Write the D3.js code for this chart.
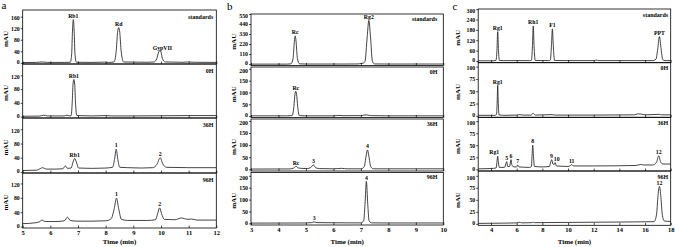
<!DOCTYPE html>
<html><head><meta charset="utf-8">
<script src="https://cdn.jsdelivr.net/npm/d3@7"></script>
<style>
body{margin:0;background:#fff}
svg{display:block}
text{font-family:"Liberation Serif","Times New Roman",serif;font-weight:bold;fill:#000}
</style>
</head><body>
<svg id="chart" width="675" height="247"></svg>
<script>
// ---------- DATA ----------
const sampleNames = ["standards", "0H", "36H", "96H"];

// Panel a (time 5-12 min)
const aTimeTicks = [5, 6, 7, 8, 9, 10, 11, 12];
const aYTicksStd = [0, 40, 80, 120, 160];
const aYTicks = [0, 40, 80, 120];
const aStd = [[5,1],[5.5,1.5],[5.7,3],[5.9,1.5],[6.5,1.5],[6.72,2],[6.77,30],[6.8,110],[6.83,150],[6.86,110],[6.89,30],[6.94,2],[7.5,1.5],[7.95,2.5],[8.1,1.5],[8.3,3],[8.38,40],[8.43,105],[8.47,122],[8.51,105],[8.56,40],[8.65,3],[9.5,2],[9.75,3],[9.85,15],[9.92,38],[9.96,43],[10.0,38],[10.05,15],[10.15,3],[10.8,2],[11,3],[11.2,2],[12,1.5]];
const a0H = [[5,1],[5.6,1.5],[5.75,4],[5.9,2],[6.5,2],[6.6,4],[6.7,2],[6.75,3],[6.79,40],[6.82,95],[6.85,108],[6.88,95],[6.91,40],[6.96,3],[7.5,2],[8.0,3],[8.2,2],[9,2],[10,2.5],[11,3],[12,3]];
const a36H = [[5,4],[5.5,5],[5.65,10],[5.72,12],[5.85,8],[6.2,8],[6.45,9],[6.55,17],[6.62,10],[6.75,11],[6.82,28],[6.88,38],[6.94,28],[7.02,11],[7.5,10],[8.0,11],[8.25,13],[8.32,35],[8.38,64],[8.44,35],[8.51,13],[8.8,12],[9.3,11],[9.7,12],[9.86,22],[9.97,40],[10.07,22],[10.2,13],[11,12],[12,12]];
const a96H = [[5,8],[5.4,10],[5.6,13],[5.7,18],[5.8,14],[6.2,14],[6.5,16],[6.62,26],[6.72,17],[7.0,15],[7.5,15],[8.0,16],[8.2,22],[8.31,50],[8.39,79],[8.47,50],[8.57,20],[8.8,17],[9.5,17],[9.8,19],[9.88,36],[9.95,52],[10.02,36],[10.12,20],[10.5,19],[10.75,24],[10.95,20],[11.1,21],[11.3,18],[12,18]];
const aLabels = [[0,"Rb1",6.83,150],[0,"Rd",8.47,122],[0,"GypVII",10.05,38],[1,"Rb1",6.85,108],[2,"Rb1",6.88,38],[2,"1",8.38,64],[2,"2",9.97,40],[3,"1",8.39,79],[3,"2",9.95,52]];

// Panel b (time 3-10 min)
const bTimeTicks = [3, 4, 5, 6, 7, 8, 9, 10];
const bYTicksStd = [0, 110, 220, 330, 440, 550];
const bYTicks = [0, 50, 100, 150, 200];
const bStd = [[3,0],[4.3,0],[4.45,3],[4.53,60],[4.58,250],[4.61,310],[4.64,250],[4.69,60],[4.77,3],[5,1],[6.5,1],[6.9,2],[7.0,8],[7.08,10],[7.15,30],[7.23,300],[7.29,480],[7.35,300],[7.42,30],[7.5,2],[8,1],[10,1]];
const b0H = [[3,1],[4.3,1],[4.5,2],[4.56,40],[4.6,92],[4.63,105],[4.66,92],[4.7,40],[4.76,2],[5,1],[6.0,1],[6.2,3],[6.35,1.5],[7.0,2],[7.2,5],[7.35,2],[8,1],[10,1]];
const b36H = [[3,1],[4.4,1.5],[4.55,5],[4.64,12],[4.74,5],[5.05,3],[5.18,8],[5.27,18],[5.36,6],[5.5,3],[6,2],[6.3,4],[6.5,2],[7.0,2],[7.12,10],[7.19,55],[7.24,80],[7.29,55],[7.36,10],[7.47,2],[8,2],[10,2]];
const b96H = [[3,1],[5,1.5],[5.2,3],[5.3,6],[5.4,3],[6.5,2],[7.0,2],[7.1,10],[7.15,80],[7.2,176],[7.25,80],[7.3,10],[7.4,2],[8,1.5],[10,1.5]];
const bLabels = [[0,"Rc",4.61,310],[0,"Rg2",7.29,480],[1,"Rc",4.63,105],[2,"Rc",4.64,12],[2,"3",5.27,18],[2,"4",7.24,80],[3,"3",5.3,6],[3,"4",7.2,176]];

// Panel c (time 3-18 min)
const cTimeTicks = [4, 6, 8, 10, 12, 14, 16, 18];
const cYTicksStd = [0, 60, 120, 180, 240, 300];
const cYTicks = [0, 25, 50, 75, 100];
const cStd = [[3,1],[4.2,1],[4.38,3],[4.46,60],[4.52,170],[4.58,60],[4.66,3],[5,2],[7.0,2],[7.15,5],[7.23,90],[7.29,203],[7.35,90],[7.45,3],[8.5,2],[8.62,5],[8.71,90],[8.78,186],[8.85,90],[8.95,3],[10,2],[12.0,2],[12.2,5],[12.4,2],[14,2],[16.6,2],[16.85,10],[16.99,70],[17.12,141],[17.25,70],[17.38,8],[17.55,2],[18,2]];
const c0H = [[3,1],[4.3,1],[4.43,3],[4.48,30],[4.52,62],[4.56,30],[4.62,2],[5,1],[6.0,1.5],[6.25,2.5],[6.5,1.5],[7.1,1.5],[7.29,5],[7.45,1.5],[8.75,2.5],[9,1.5],[12,1.5],[15.2,2],[15.4,4],[15.7,3.5],[16.0,2],[17.1,3],[17.3,2],[18,2]];
const c36H = [[3,1],[4.2,2],[4.4,3],[4.47,18],[4.52,27],[4.57,15],[4.65,4],[5.05,4],[5.15,11],[5.22,16],[5.3,6],[5.45,6],[5.5,13],[5.56,20],[5.63,8],[5.8,5],[6.0,5],[6.08,9],[6.18,5],[7.0,4],[7.15,6],[7.2,30],[7.25,50],[7.3,30],[7.38,6],[8.0,5],[8.55,6],[8.65,15],[8.73,20],[8.82,11],[8.92,10],[8.99,14],[9.1,7],[10.0,6],[10.2,8],[10.29,10],[10.4,7],[12,7],[15.3,8],[15.66,10],[15.9,9],[16.6,9],[16.9,15],[17.07,28],[17.22,15],[17.4,11],[18,11]];
const c96H = [[3,1],[5,1.5],[6,2],[6.2,3.5],[6.4,2],[7.2,2.5],[7.3,3.5],[7.4,2.5],[10,3],[15,4],[16.7,4.5],[16.9,20],[17.0,55],[17.12,78],[17.24,55],[17.34,20],[17.5,6],[18,5]];
const cLabels = [[0,"Rg1",4.52,170],[0,"Rh1",7.29,203],[0,"F1",8.78,186],[0,"PPT",17.12,141],[1,"Rg1",4.52,62],[2,"Rg1",4.25,28],[2,"5",5.22,16],[2,"6",5.56,20],[2,"7",6.08,9],[2,"8",7.25,50],[2,"9",8.7,20],[2,"10",9.12,14],[2,"11",10.29,10],[2,"12",17.07,28],[3,"12",17.12,78]];

// ---------- LAYOUT ----------
const svg = d3.select("#chart");
const panels = [
  {letter:"a", lx:1.5, ly:8.5, x0:22.7, x1:216.3, xDomain:[5,12], xTicks:aTimeTicks, mauX:6,
   nameDx:3, nameDy:8.5, labels:aLabels,
   subs:[{top:10,bottom:64,yDomain:[-4,183],yTicks:aYTicksStd,data:aStd},
         {top:64,bottom:118,yDomain:[-4,153],yTicks:aYTicks,data:a0H},
         {top:118,bottom:173,yDomain:[-3,152],yTicks:aYTicks,data:a36H},
         {top:173,bottom:228,yDomain:[-4,149],yTicks:aYTicks,data:a96H}]},
  {letter:"b", lx:227, ly:10, x0:251, x1:443.3, xDomain:[3,10], xTicks:bTimeTicks, mauX:234,
   nameDx:6, nameDy:6.8, labels:bLabels,
   subs:[{top:14,bottom:65.5,yDomain:[-15,550],yTicks:bYTicksStd,data:bStd},
         {top:67,bottom:117.5,yDomain:[-6,208],yTicks:bYTicks,data:b0H},
         {top:119,bottom:171,yDomain:[-7,208],yTicks:bYTicks,data:b36H},
         {top:172.5,bottom:225,yDomain:[-7,214],yTicks:bYTicks,data:b96H}]},
  {letter:"c", lx:452.5, ly:9.5, x0:478.2, x1:670.7, xDomain:[3,18], xTicks:cTimeTicks, mauX:458,
   nameDx:2.5, nameDy:7.5, labels:cLabels,
   subs:[{top:9,bottom:62.7,yDomain:[-10,301],yTicks:cYTicksStd,data:cStd},
         {top:62.7,bottom:117.3,yDomain:[-3,108],yTicks:cYTicks,data:c0H},
         {top:117.3,bottom:171,yDomain:[-3.5,108],yTicks:cYTicks,data:c36H},
         {top:171,bottom:225.3,yDomain:[-3,110],yTicks:cYTicks,data:c96H}]}
];

panels.forEach((p, pi) => {
  const x = d3.scaleLinear().domain(p.xDomain).range([p.x0, p.x1]);
  const G = svg.append("g");
  G.append("text").attr("x", p.lx).attr("y", p.ly).attr("font-size", 11)
    .style("font-weight","normal").text(p.letter);
  const yScales = [];
  p.subs.forEach((s, i) => {
    const y = d3.scaleLinear().domain(s.yDomain).range([s.bottom, s.top]);
    yScales.push(y);
    const g = G.append("g");
    const cid = `clip${pi}_${i}`;
    g.append("clipPath").attr("id", cid).append("rect")
      .attr("x", p.x0).attr("y", s.top).attr("width", p.x1 - p.x0).attr("height", s.bottom - s.top);
    // trace
    g.append("path").datum(s.data)
      .attr("clip-path", `url(#${cid})`)
      .attr("fill", "none").attr("stroke", "#222").attr("stroke-width", 0.85)
      .attr("d", d3.line().x(d => x(d[0])).y(d => y(d[1])).curve(d3.curveMonotoneX));
    // y axis
    const maxTick = d3.max(s.yTicks);
    const ya = g.append("g").attr("transform", `translate(${p.x0},0)`)
      .call(d3.axisLeft(y).tickValues(s.yTicks).tickSize(2).tickPadding(1));
    ya.select(".domain").remove();
    ya.selectAll("line").attr("stroke", "#000").attr("stroke-width", 0.7);
    ya.selectAll("text").attr("font-size", 5.8).attr("font-family", null)
      .attr("dy", d => d === 0 ? "0.12em" : (d === maxTick ? "0.55em" : "0.32em"));
    // x axis (inward ticks)
    const last = i === p.subs.length - 1;
    const xa = g.append("g").attr("transform", `translate(0,${s.bottom})`)
      .call(d3.axisBottom(x).tickValues(p.xTicks).tickSizeInner(-2.5).tickSizeOuter(0)
        .tickPadding(2.2).tickFormat(last ? d3.format("d") : () => ""));
    xa.select(".domain").remove();
    xa.selectAll("line").attr("stroke", "#000").attr("stroke-width", 0.7);
    xa.selectAll("text").attr("font-size", 6.5).attr("font-family", null);
    // frame
    g.append("rect").attr("x", p.x0).attr("y", s.top)
      .attr("width", p.x1 - p.x0).attr("height", s.bottom - s.top)
      .attr("fill", "none").attr("stroke", "#000").attr("stroke-width", 0.8);
    // sample name
    g.append("text").attr("x", p.x1 - p.nameDx).attr("y", s.top + p.nameDy)
      .attr("text-anchor", "end").attr("font-size", 6).text(sampleNames[i]);
    // mAU
    const cy = (s.top + s.bottom) / 2 + 2;
    g.append("text").attr("transform", `translate(${p.mauX},${cy}) rotate(-90)`)
      .attr("text-anchor", "middle").attr("dy", "0.35em").attr("font-size", 7).text("mAU");
  });
  // peak labels
  p.labels.forEach(([si, txt, t, v]) => {
    G.append("text").attr("x", x(t)).attr("y", yScales[si](v) - 1.8)
      .attr("text-anchor", "middle").attr("font-size", 5.8).text(txt);
  });
  // x-axis title
  G.append("text").attr("x", (p.x0 + p.x1) / 2).attr("y", 243.5)
    .attr("text-anchor", "middle").attr("font-size", 7).text("Time (min)");
});
</script>
</body></html>
